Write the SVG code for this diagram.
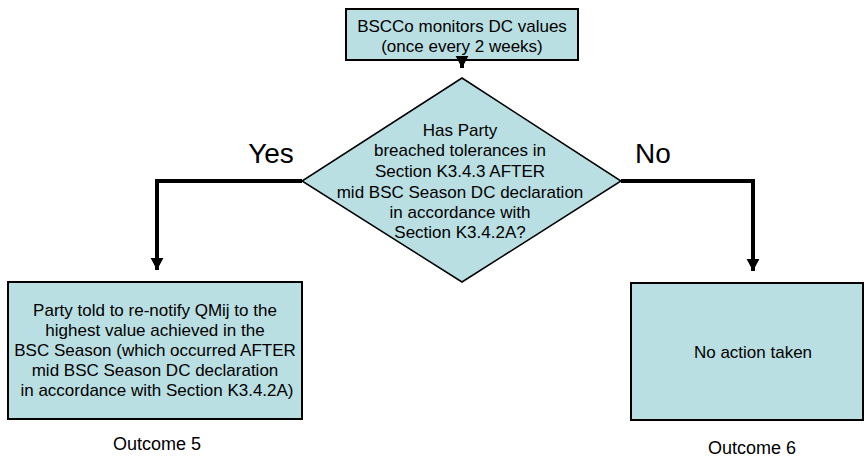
<svg xmlns="http://www.w3.org/2000/svg" width="866" height="459" viewBox="0 0 866 459">
<style>
.box{fill:#BADFE2;stroke:#000;stroke-width:2}
.dia{fill:#BADFE2;stroke:#000;stroke-width:1.5}
.t{font-family:"Liberation Sans",Arial,sans-serif;font-size:17px;fill:#000;text-anchor:middle}
.big{font-family:"Liberation Sans",Arial,sans-serif;font-size:28px;fill:#000;text-anchor:middle}
.out{font-family:"Liberation Sans",Arial,sans-serif;font-size:18px;fill:#000;text-anchor:middle}
.c{fill:none;stroke:#000;stroke-width:4}
</style>
<defs>
<marker id="ah" markerWidth="4" markerHeight="4" refX="3" refY="2" orient="auto" markerUnits="strokeWidth">
<path d="M0,0.4 L3,2 L0,3.6 Z" fill="#000"/>
</marker>
</defs>
<g id="n-monitor">
<rect class="box" x="346" y="9" width="232" height="51"/>
<text class="t" x="462" y="32">BSCCo monitors DC values</text>
<text class="t" x="462" y="52">(once every 2 weeks)</text>
</g>
<g id="n-decision">
<polygon class="dia" points="462,78 621,181 462,282 302,181"/>
<text class="t" x="460" y="136">Has Party</text>
<text class="t" x="460" y="156">breached tolerances in</text>
<text class="t" x="460" y="177">Section K3.4.3 AFTER</text>
<text class="t" x="460" y="198">mid BSC Season DC declaration</text>
<text class="t" x="460" y="218">in accordance with</text>
<text class="t" x="460" y="238">Section K3.4.2A?</text>
</g>
<g id="n-outcome5">
<rect class="box" x="8" y="282" width="294" height="137"/>
<text class="t" x="155" y="316">Party told to re-notify QMij to the</text>
<text class="t" x="155" y="336">highest value achieved in the</text>
<text class="t" x="155" y="356">BSC Season (which occurred AFTER</text>
<text class="t" x="155" y="376">mid BSC Season DC declaration</text>
<text class="t" x="157" y="396">in accordance with Section K3.4.2A)</text>
<text class="out" x="157" y="450">Outcome 5</text>
</g>
<g id="n-outcome6">
<rect class="box" x="631" y="283" width="232" height="137"/>
<text class="t" x="753" y="358">No action taken</text>
<text class="out" x="752" y="454">Outcome 6</text>
</g>
<g id="connectors">
<path class="c" d="M462,60 L462,68" marker-end="url(#ah)"/>
<path class="c" d="M302,181 L157,181 L157,270" marker-end="url(#ah)"/>
<path class="c" d="M621,181 L753,181 L753,271" marker-end="url(#ah)"/>
<text class="big" x="271" y="163">Yes</text>
<text class="big" x="653" y="163">No</text>
</g>
</svg>
